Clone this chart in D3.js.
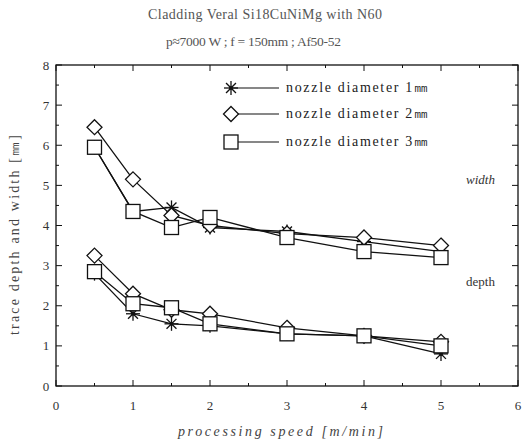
<!DOCTYPE html>
<html><head><meta charset="utf-8">
<script src="https://cdn.jsdelivr.net/npm/d3@7"></script>
<style>body{margin:0;background:#fff}svg{display:block}text{font-family:"Liberation Serif","DejaVu Serif",serif;fill:#222}</style>
</head><body><svg id="c" width="529" height="442"></svg>
<script>
const speeds = [0.5, 1, 1.5, 2, 3, 4, 5];
const width1mm = [5.95, 4.35, 4.45, 3.95, 3.85, 3.6, 3.35];
const width2mm = [6.45, 5.15, 4.25, 4.0, 3.8, 3.7, 3.5];
const width3mm = [5.95, 4.35, 3.95, 4.2, 3.7, 3.35, 3.2];
const depth1mm = [2.8, 1.8, 1.55, 1.5, 1.3, 1.25, 0.8];
const depth2mm = [3.25, 2.3, 1.9, 1.8, 1.45, 1.25, 1.1];
const depth3mm = [2.85, 2.05, 1.95, 1.55, 1.3, 1.25, 1.0];
const xTicks = [0, 1, 2, 3, 4, 5, 6];
const yTicks = [0, 1, 2, 3, 4, 5, 6, 7, 8];
const legendLabels = ["nozzle diameter 1㎜", "nozzle diameter 2㎜", "nozzle diameter 3㎜"];
const markers = ["star", "diamond", "square"];

const svg = d3.select("#c");
const L = 56, R = 518, T = 65, B = 386;
const x = d3.scaleLinear().domain([0, 6]).range([L, R]);
const y = d3.scaleLinear().domain([0, 8]).range([B, T]);

// frame
svg.append("rect").attr("x", L).attr("y", T).attr("width", R - L).attr("height", B - T)
  .attr("fill", "none").attr("stroke", "#111").attr("stroke-width", 1.3);

// ticks (inward, mirrored)
const xMinor = d3.range(0, 6.01, 0.5), yMinor = d3.range(0, 8.01, 0.5);
const tg = svg.append("g").attr("stroke", "#111").attr("stroke-width", 1);
xMinor.forEach(v => {
  const len = Number.isInteger(v) ? 6 : 3;
  tg.append("line").attr("x1", x(v)).attr("x2", x(v)).attr("y1", B).attr("y2", B - len);
  tg.append("line").attr("x1", x(v)).attr("x2", x(v)).attr("y1", T).attr("y2", T + len);
});
yMinor.forEach(v => {
  const len = Number.isInteger(v) ? 6 : 3;
  tg.append("line").attr("y1", y(v)).attr("y2", y(v)).attr("x1", L).attr("x2", L + len);
  tg.append("line").attr("y1", y(v)).attr("y2", y(v)).attr("x1", R).attr("x2", R - len);
});

// tick labels
svg.append("g").selectAll("text").data(xTicks).join("text")
  .attr("x", d => x(d)).attr("y", 410).attr("text-anchor", "middle")
  .attr("font-size", 13).style("fill", "#333").text(d => d);
svg.append("g").selectAll("text").data(yTicks).join("text")
  .attr("x", 46).attr("y", d => y(d) + 4.5).attr("text-anchor", "middle")
  .attr("font-size", 13).style("fill", "#333").text(d => d);

// titles
svg.append("text").attr("x", 148).attr("y", 19)
  .attr("font-size", 14).attr("textLength", 234).attr("lengthAdjust", "spacing")
  .style("fill", "#555").text("Cladding Veral Si18CuNiMg with N60");
svg.append("text").attr("x", 166).attr("y", 46)
  .attr("font-size", 13.5).attr("textLength", 175).attr("lengthAdjust", "spacing")
  .style("fill", "#555").text("p≈7000 W ; f = 150mm ; Af50-52");

// axis titles
svg.append("text").attr("x", 178).attr("y", 436)
  .attr("font-size", 14).attr("font-style", "italic").style("fill", "#444")
  .attr("textLength", 205).attr("lengthAdjust", "spacing")
  .text("processing speed [m/min]");
svg.append("text").attr("transform", "translate(19,335) rotate(-90)")
  .attr("font-size", 14).style("fill", "#444")
  .attr("textLength", 200).attr("lengthAdjust", "spacing")
  .text("trace depth and width [㎜]");

svg.append("text").attr("x", 466).attr("y", 184).attr("font-size", 13).attr("font-style", "italic").style("fill", "#333").text("width");
svg.append("text").attr("x", 466).attr("y", 286).attr("font-size", 13).style("fill", "#333").text("depth");

// series
const series = [
  {vals: width1mm, m: 0}, {vals: width2mm, m: 1}, {vals: width3mm, m: 2},
  {vals: depth1mm, m: 0}, {vals: depth2mm, m: 1}, {vals: depth3mm, m: 2}
];
const line = d3.line().x(d => x(d[0])).y(d => y(d[1]));
const lg = svg.append("g");
series.forEach(s => {
  lg.append("path").attr("d", line(speeds.map((sp, i) => [sp, s.vals[i]])))
    .attr("fill", "none").attr("stroke", "#111").attr("stroke-width", 1.3);
});

function drawMarker(g, type, cx, cy) {
  if (type === "star") {
    const r = 7;
    for (let k = 0; k < 4; k++) {
      const a = k * Math.PI / 4;
      g.append("line").attr("x1", cx - r * Math.cos(a)).attr("y1", cy - r * Math.sin(a))
        .attr("x2", cx + r * Math.cos(a)).attr("y2", cy + r * Math.sin(a))
        .attr("stroke", "#111").attr("stroke-width", 1.3);
    }
    g.append("circle").attr("cx", cx).attr("cy", cy).attr("r", 2).attr("fill", "#111");
  } else if (type === "diamond") {
    const r = 7.5;
    g.append("path").attr("d", `M${cx},${cy - r}L${cx + r},${cy}L${cx},${cy + r}L${cx - r},${cy}Z`)
      .attr("fill", "#fff").attr("stroke", "#111").attr("stroke-width", 1.3);
  } else {
    const h = 7;
    g.append("rect").attr("x", cx - h).attr("y", cy - h).attr("width", 2 * h).attr("height", 2 * h)
      .attr("fill", "#fff").attr("stroke", "#111").attr("stroke-width", 1.3);
  }
}
const mg = svg.append("g");
[0, 1, 2].forEach(mi => {
  series.filter(s => s.m === mi).forEach(s => {
    speeds.forEach((sp, i) => drawMarker(mg, markers[mi], x(sp), y(s.vals[i])));
  });
});

// legend
const legY = [88, 114, 142];
const leg = svg.append("g");
legendLabels.forEach((t, i) => {
  leg.append("line").attr("x1", 231).attr("x2", 279).attr("y1", legY[i]).attr("y2", legY[i])
    .attr("stroke", "#111").attr("stroke-width", 1.2);
  drawMarker(leg, markers[i], 231, legY[i]);
  leg.append("text").attr("x", 286).attr("y", legY[i] + 4).attr("font-size", 14)
    .attr("textLength", 142).attr("lengthAdjust", "spacing").text(t);
});
</script></body></html>
